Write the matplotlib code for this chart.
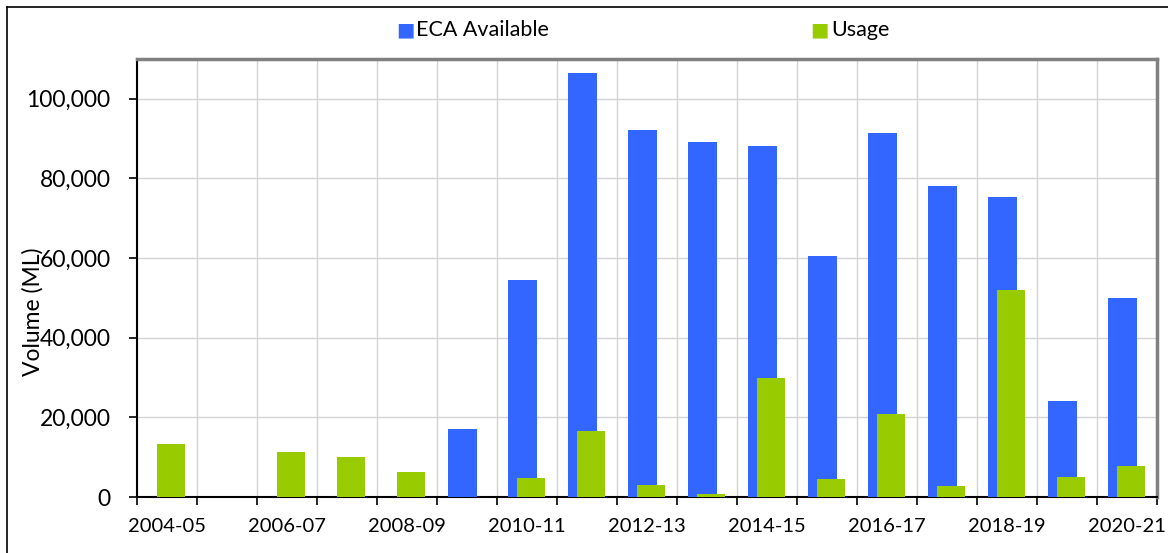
import matplotlib
matplotlib.use("Agg")
import matplotlib.pyplot as plt
from matplotlib.lines import Line2D
import numpy as np

years = ["2004-05", "2005-06", "2006-07", "2007-08", "2008-09", "2009-10",
         "2010-11", "2011-12", "2012-13", "2013-14", "2014-15", "2015-16",
         "2016-17", "2017-18", "2018-19", "2019-20", "2020-21"]
eca_available = [0, 0, 0, 0, 0, 17200, 54500, 106500, 92200, 89200, 88200,
                 60600, 91500, 78200, 75300, 24100, 50100]
usage = [13200, 0, 11200, 10000, 6300, 0, 4800, 16500, 3000, 800, 29800,
         4500, 20900, 2800, 51900, 5000, 7800]

plt.rcParams['font.family'] = ['Lato', 'DejaVu Sans']

fig = plt.figure(figsize=(11.68, 5.53), dpi=100)
ax = fig.add_axes([137/1168, 1-497/553, (1157-137)/1168, (497-59)/553])

x = np.arange(len(years))
w = 0.48
ax.bar(x - 0.075, eca_available, width=w, color="#3366FF", label="ECA Available", zorder=3)
ax.bar(x + 0.065, usage, width=w, color="#99CC00", label="Usage", zorder=4)

ax.set_xlim(-0.5, len(years) - 0.5)
ax.set_ylim(0, 110000)
ax.set_yticks(np.arange(0, 100001, 20000))
ax.set_yticklabels([f"{v:,}" for v in range(0, 100001, 20000)], fontsize=16.5)

# major ticks at boundaries (gridlines), labels at centers
ax.set_xticks(np.arange(-0.5, len(years), 1))
ax.set_xticklabels([])
ax.set_xticks(x[::2], minor=True)
ax.set_xticklabels(years[::2], minor=True, fontsize=14.5)
ax.tick_params(axis='x', which='minor', length=0, pad=15)
ax.tick_params(axis='x', which='major', length=6, width=1.2, direction='out', color='black')
ax.tick_params(axis='y', length=6, width=1.2, direction='out', pad=13)

ax.grid(True, which='major', color="#d3d3d3", linewidth=1, zorder=0)
ax.set_axisbelow(True)

for s in ['left', 'bottom']:
    ax.spines[s].set_color('black')
    ax.spines[s].set_linewidth(1.5)
for s in ['top', 'right']:
    ax.spines[s].set_color('#808080')
    ax.spines[s].set_linewidth(2.5)

ax.set_ylabel("Volume (ML)", fontsize=16.5)
ax.yaxis.set_label_coords(33/1168, 1-312/553, transform=fig.transFigure)
ax.yaxis.label.set_va('center')
ax.yaxis.label.set_ha('center')

# legend entries positioned like the original
fig.text(396/1168, 1-30/553, "\u25A0", color="#3366FF", fontsize=14, va='center', ha='left',
         family=['DejaVu Sans'])
fig.text(416/1168, 1-30/553, "ECA Available", fontsize=15.5, va='center', ha='left')
fig.text(810/1168, 1-30/553, "\u25A0", color="#99CC00", fontsize=14, va='center', ha='left',
         family=['DejaVu Sans'])
fig.text(831/1168, 1-30/553, "Usage", fontsize=15.5, va='center', ha='left')

# outer chart frame (left and top edges visible)
fig.add_artist(Line2D([7/1168, 7/1168], [0, 1-7/553], color='black', linewidth=1.2,
                      transform=fig.transFigure))
fig.add_artist(Line2D([7/1168, 1], [1-7/553, 1-7/553], color='black', linewidth=1.2,
                      transform=fig.transFigure))

fig.savefig("out.png", dpi=100, facecolor='white')
